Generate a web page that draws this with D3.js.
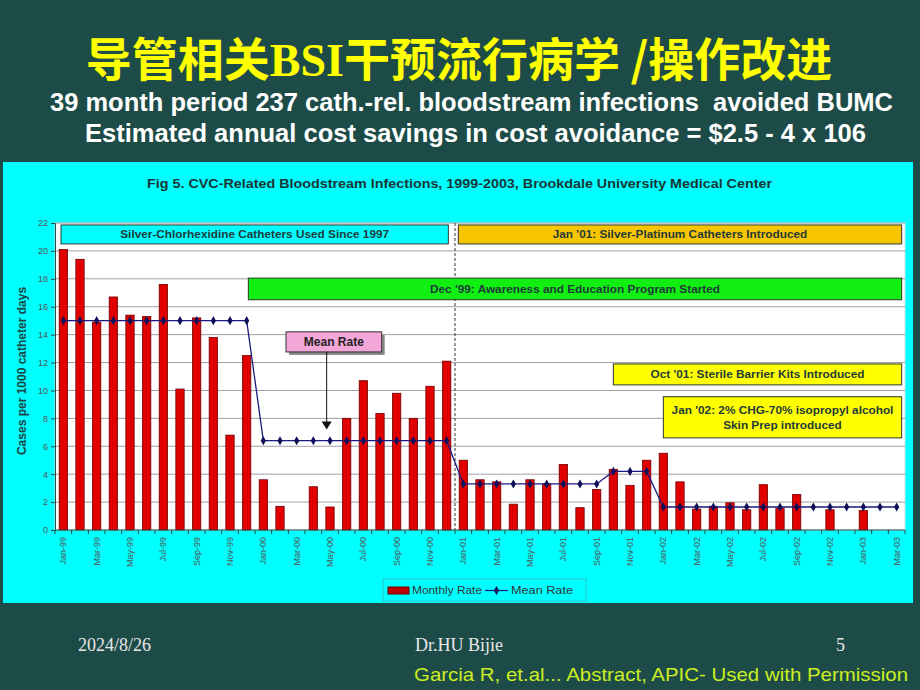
<!DOCTYPE html>
<html><head><meta charset="utf-8">
<script src="https://cdnjs.cloudflare.com/ajax/libs/d3/7.8.5/d3.min.js"></script>
<style>html,body{margin:0;padding:0;background:#1c4a46;}svg{display:block;}</style>
</head><body>
<script>
// ---------- data ----------
const months = ["Jan-99","Feb-99","Mar-99","Apr-99","May-99","Jun-99","Jul-99","Aug-99","Sep-99","Oct-99","Nov-99","Dec-99",
"Jan-00","Feb-00","Mar-00","Apr-00","May-00","Jun-00","Jul-00","Aug-00","Sep-00","Oct-00","Nov-00","Dec-00",
"Jan-01","Feb-01","Mar-01","Apr-01","May-01","Jun-01","Jul-01","Aug-01","Sep-01","Oct-01","Nov-01","Dec-01",
"Jan-02","Feb-02","Mar-02","Apr-02","May-02","Jun-02","Jul-02","Aug-02","Sep-02","Oct-02","Nov-02","Dec-02",
"Jan-03","Feb-03","Mar-03"];
const monthlyRate = [20.1,19.4,14.9,16.7,15.4,15.3,17.6,10.1,15.2,13.8,6.8,12.5,
3.6,1.7,null,3.1,1.65,8.0,10.7,8.35,9.8,8.0,10.3,12.1,
5.0,3.6,3.45,1.85,3.6,3.3,4.7,1.6,2.9,4.35,3.2,5.0,
5.5,3.45,1.5,1.7,1.95,1.45,3.25,1.55,2.55,null,1.45,null,
1.4,null,null];
const meanRate = [15,15,15,15,15,15,15,15,15,15,15,15,
6.4,6.4,6.4,6.4,6.4,6.4,6.4,6.4,6.4,6.4,6.4,6.4,
3.3,3.3,3.3,3.3,3.3,3.3,3.3,3.3,3.3,4.2,4.2,4.2,
1.65,1.65,1.65,1.65,1.65,1.65,1.65,1.65,1.65,1.65,1.65,1.65,
1.65,1.65,1.65];
const xTickLabels = ["Jan-99","Mar-99","May-99","Jul-99","Sep-99","Nov-99","Jan-00","Mar-00","May-00","Jul-00","Sep-00","Nov-00",
"Jan-01","Mar-01","May-01","Jul-01","Sep-01","Nov-01","Jan-02","Mar-02","May-02","Jul-02","Sep-02","Nov-02","Jan-03","Mar-03"];
const yTicks = [0,2,4,6,8,10,12,14,16,18,20,22];
const annotations = [
  {text:["Silver-Chlorhexidine Catheters Used Since 1997"], x0:0.36, x1:23.6, y0:21.86, y1:20.5, fill:"#00ffff"},
  {text:["Jan '01: Silver-Platinum Catheters Introduced"], x0:24.2, x1:50.8, y0:21.86, y1:20.5, fill:"#f7c600"},
  {text:["Dec '99: Awareness and Education Program Started"], x0:11.6, x1:50.8, y0:18.05, y1:16.5, fill:"#11ee11"},
  {text:["Oct '01: Sterile Barrier Kits Introduced"], x0:33.5, x1:50.8, y0:11.9, y1:10.4, fill:"#ffff00"},
  {text:["Jan '02: 2% CHG-70% isopropyl alcohol","Skin Prep introduced"], x0:36.5, x1:50.8, y0:9.55, y1:6.6, fill:"#ffff00"}
];

// ---------- layout ----------
const W = 920, H = 690;
const sans = "'Liberation Sans',Arial,sans-serif";
const svg = d3.select("body").append("svg").attr("width", W).attr("height", H);
svg.append("rect").attr("width", W).attr("height", H).attr("fill", "#1d4c48");

// slide title
const t = svg.append("text").attr("x", 459).attr("y", 76).attr("text-anchor", "middle")
  .attr("fill", "#ffff00").attr("font-size", 46).attr("font-weight", "bold");
t.append("tspan").attr("font-family", "'Noto Sans CJK SC'").text("导管相关");
t.append("tspan").attr("font-family", "'Liberation Serif','DejaVu Serif',serif").text("BSI");
t.append("tspan").attr("font-family", "'Noto Sans CJK SC'").text("干预流行病学 /操作改进");

svg.append("text").attr("x", 50).attr("y", 111).attr("fill", "#ffffff").attr("xml:space", "preserve")
  .style("white-space", "pre")
  .attr("font-family", sans).attr("font-weight", "bold").attr("font-size", 25)
  .attr("textLength", 843).attr("lengthAdjust", "spacingAndGlyphs")
  .text("39 month period 237 cath.-rel. bloodstream infections  avoided BUMC");
svg.append("text").attr("x", 85).attr("y", 142).attr("fill", "#ffffff")
  .attr("font-family", sans).attr("font-weight", "bold").attr("font-size", 25)
  .attr("textLength", 781).attr("lengthAdjust", "spacingAndGlyphs")
  .text("Estimated annual cost savings in cost avoidance = $2.5 - 4 x 106");

// chart panel
svg.append("rect").attr("x", 3).attr("y", 162).attr("width", 910).attr("height", 441).attr("fill", "#00ffff");
svg.append("text").attr("x", 147).attr("y", 188)
  .attr("font-family", sans).attr("font-weight", "bold").attr("font-size", 13.5)
  .attr("fill", "#1a3535").attr("textLength", 625).attr("lengthAdjust", "spacingAndGlyphs")
  .text("Fig 5. CVC-Related Bloodstream Infections, 1999-2003, Brookdale University Medical Center");

const plot = {left: 55, right: 905, top: 223, bottom: 530};
const x = d3.scaleBand().domain(months).range([plot.left, plot.right]).paddingInner(0.5).paddingOuter(0.25);
const xs = d3.scaleLinear().domain([0, months.length]).range([plot.left, plot.right]);
const y = d3.scaleLinear().domain([0, 22]).range([plot.bottom, plot.top]);

svg.append("rect").attr("x", plot.left).attr("y", plot.top).attr("width", plot.right - plot.left)
  .attr("height", plot.bottom - plot.top).attr("fill", "#ffffff").attr("stroke", "#c8e8e8");

// gridlines
svg.append("g").selectAll("line").data(yTicks.filter(d => d > 0)).join("line")
  .attr("x1", plot.left).attr("x2", plot.right).attr("y1", d => y(d)).attr("y2", d => y(d))
  .attr("stroke", "#a0a0a0").attr("stroke-width", 1);

// y axis
const yAxis = svg.append("g").attr("transform", `translate(${plot.left},0)`)
  .call(d3.axisLeft(y).tickValues(yTicks).tickSize(4).tickPadding(3));
yAxis.select(".domain").attr("stroke", "#2a4a4a");
yAxis.selectAll(".tick line").attr("stroke", "#2a4a4a");
yAxis.selectAll("text").attr("font-family", sans).attr("font-size", 9).attr("fill", "#555");

svg.append("text").attr("transform", `translate(26,371) rotate(-90)`)
  .attr("text-anchor", "middle").attr("font-family", sans)
  .attr("font-weight", "bold").attr("font-size", 12).attr("fill", "#1a4545")
  .text("Cases per 1000 catheter days");

// bars
svg.append("g").selectAll("rect").data(months.map((m, i) => ({m, v: monthlyRate[i]})).filter(d => d.v != null))
  .join("rect")
  .attr("x", d => x(d.m)).attr("width", x.bandwidth())
  .attr("y", d => y(d.v)).attr("height", d => y(0) - y(d.v))
  .attr("fill", "#e00000").attr("stroke", "#700000").attr("stroke-width", 0.8);

// x axis
const xAxis = svg.append("g").attr("transform", `translate(0,${plot.bottom})`);
xAxis.append("line").attr("x1", plot.left).attr("x2", plot.right).attr("stroke", "#2a4a4a").attr("stroke-width", 1.2);
xAxis.selectAll("line.tk").data(d3.range(months.length + 1)).join("line").attr("class", "tk")
  .attr("x1", d => xs(d)).attr("x2", d => xs(d)).attr("y1", 0).attr("y2", 4).attr("stroke", "#2a4a4a");
xAxis.selectAll("text").data(xTickLabels).join("text")
  .attr("transform", d => `translate(${x(d) + x.bandwidth() / 2 + 3},7) rotate(-90)`)
  .attr("text-anchor", "end").attr("font-family", sans)
  .attr("font-size", 9).attr("fill", "#555").text(d => d);

// dashed vertical line at Jan '01
svg.append("line").attr("x1", xs(24)).attr("x2", xs(24)).attr("y1", plot.top).attr("y2", plot.bottom)
  .attr("stroke", "#333").attr("stroke-width", 1).attr("stroke-dasharray", "3,2");

// annotations
const ann = svg.append("g").selectAll("g").data(annotations).join("g");
ann.append("rect").attr("x", d => xs(d.x0)).attr("y", d => y(d.y0))
  .attr("width", d => xs(d.x1) - xs(d.x0)).attr("height", d => y(d.y1) - y(d.y0))
  .attr("fill", d => d.fill).attr("stroke", "#2a3a2a").attr("stroke-width", 1);
ann.each(function(d) {
  const g = d3.select(this);
  const cx = (xs(d.x0) + xs(d.x1)) / 2, cy = (y(d.y0) + y(d.y1)) / 2;
  const n = d.text.length;
  d.text.forEach((s, i) => {
    g.append("text").attr("x", cx).attr("y", cy + (i - (n - 1) / 2) * 15 + 4)
      .attr("text-anchor", "middle").attr("font-family", sans)
      .attr("font-weight", "bold").attr("font-size", 11.8).attr("fill", "#1f3a3a").text(s);
  });
});

// mean rate callout
const mr = {x0: 13.86, x1: 19.6, y0: 14.2, y1: 12.76, ax: 16.3, ay: 7.2};
svg.append("rect").attr("x", xs(mr.x0) + 3).attr("y", y(mr.y0) + 3).attr("width", xs(mr.x1) - xs(mr.x0))
  .attr("height", y(mr.y1) - y(mr.y0)).attr("fill", "#888");
svg.append("rect").attr("x", xs(mr.x0)).attr("y", y(mr.y0)).attr("width", xs(mr.x1) - xs(mr.x0))
  .attr("height", y(mr.y1) - y(mr.y0)).attr("fill", "#f4a6d8").attr("stroke", "#333");
svg.append("text").attr("x", (xs(mr.x0) + xs(mr.x1)) / 2).attr("y", (y(mr.y0) + y(mr.y1)) / 2 + 4)
  .attr("text-anchor", "middle").attr("font-family", sans)
  .attr("font-weight", "bold").attr("font-size", 12).attr("fill", "#222").text("Mean Rate");
svg.append("line").attr("x1", xs(mr.ax)).attr("x2", xs(mr.ax)).attr("y1", y(mr.y1)).attr("y2", y(mr.ay) - 7)
  .attr("stroke", "#111").attr("stroke-width", 1);
svg.append("path").attr("d", `M${xs(mr.ax) - 5},${y(mr.ay) - 8} L${xs(mr.ax) + 5},${y(mr.ay) - 8} L${xs(mr.ax)},${y(mr.ay)} Z`)
  .attr("fill", "#111");

// mean line
const line = d3.line().x((d, i) => x(months[i]) + x.bandwidth() / 2).y(d => y(d));
svg.append("path").datum(meanRate).attr("d", line).attr("fill", "none").attr("stroke", "#1a1a80").attr("stroke-width", 1.3);
svg.append("g").selectAll("path").data(meanRate).join("path")
  .attr("transform", (d, i) => `translate(${x(months[i]) + x.bandwidth() / 2},${y(d)})`)
  .attr("d", d3.symbol(d3.symbolDiamond, 24)).attr("fill", "#10105a");

// legend
const lg = svg.append("g");
lg.append("rect").attr("x", 383).attr("y", 579).attr("width", 203).attr("height", 22)
  .attr("fill", "#00ffff").attr("stroke", "#3cb8b8").attr("stroke-width", 0.8);
lg.append("rect").attr("x", 388).attr("y", 587).attr("width", 21).attr("height", 7)
  .attr("fill", "#c00000").attr("stroke", "#600");
lg.append("text").attr("x", 412).attr("y", 594).attr("font-family", sans)
  .attr("font-size", 10.5).attr("fill", "#333").attr("textLength", 70).attr("lengthAdjust", "spacingAndGlyphs").text("Monthly Rate");
lg.append("line").attr("x1", 485).attr("x2", 508).attr("y1", 590.5).attr("y2", 590.5).attr("stroke", "#1a1a80").attr("stroke-width", 1.2);
lg.append("path").attr("transform", "translate(496.5,590.5)").attr("d", d3.symbol(d3.symbolDiamond, 24)).attr("fill", "#10105a");
lg.append("text").attr("x", 511).attr("y", 594).attr("font-family", sans)
  .attr("font-size", 10.5).attr("fill", "#333").attr("textLength", 62).attr("lengthAdjust", "spacingAndGlyphs").text("Mean Rate");

// footer
const serif = "'Liberation Serif','Times New Roman',serif";
svg.append("text").attr("x", 78).attr("y", 651).attr("font-family", serif).attr("font-size", 18).attr("fill", "#e8e8e8").text("2024/8/26");
svg.append("text").attr("x", 415).attr("y", 651).attr("font-family", serif).attr("font-size", 18).attr("fill", "#e8e8e8").text("Dr.HU Bijie");
svg.append("text").attr("x", 836).attr("y", 651).attr("font-family", serif).attr("font-size", 18).attr("fill", "#e8e8e8").text("5");
svg.append("text").attr("x", 414).attr("y", 681).attr("font-family", sans).attr("font-size", 19)
  .attr("fill", "#ccee22").attr("textLength", 494).attr("lengthAdjust", "spacingAndGlyphs")
  .text("Garcia R, et.al... Abstract, APIC- Used with Permission");
</script>
</body></html>
